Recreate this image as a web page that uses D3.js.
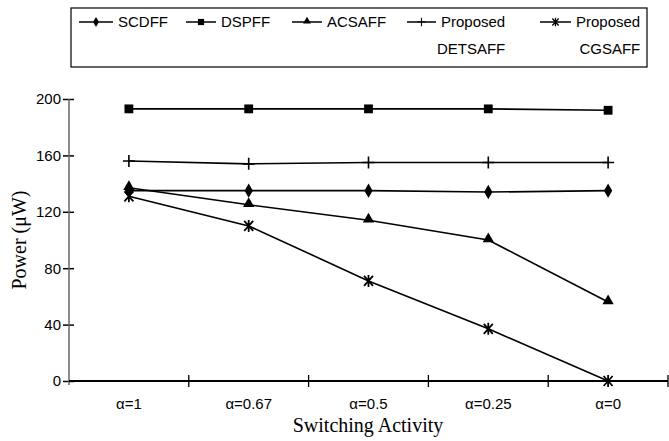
<!DOCTYPE html>
<html>
<head>
<meta charset="utf-8">
<script src="https://cdn.jsdelivr.net/npm/d3@7"></script>
<style>
  body { margin: 0; background: #fff; }
  svg { display: block; }
  .sans { font-family: "Liberation Sans", Arial, sans-serif; }
  .serif { font-family: "Liberation Serif", "Times New Roman", serif; }
</style>
</head>
<body>
<div class="chart"></div>
<script>
// Data
const categories = ["α=1", "α=0.67", "α=0.5", "α=0.25", "α=0"];
const scdff   = [135, 135, 135, 134, 135];
const dspff   = [193, 193, 193, 193, 192];
const acsaff  = [137, 125, 114, 100, 56];
const detsaff = [156, 154, 155, 155, 155];
const cgsaff  = [131, 110, 71, 37, 0];
const yTicks  = [0, 40, 80, 120, 160, 200];

const series = [
    { name: ["SCDFF"], values: scdff, marker: "diamond" },
    { name: ["DSPFF"], values: dspff, marker: "square" },
    { name: ["ACSAFF"], values: acsaff, marker: "triangle" },
    { name: ["Proposed", "DETSAFF"], values: detsaff, marker: "plus" },
    { name: ["Proposed", "CGSAFF"], values: cgsaff, marker: "star" }
];

const W = 669, H = 441;
const svg = d3.select(".chart")
    .append("svg")
    .attr("width", W)
    .attr("height", H);

// Scales
const x = d3.scaleBand()
    .domain(categories)
    .range([69, 668])
    .padding(0);

const y = d3.scaleLinear()
    .domain([0, 200])
    .range([381, 99]);

const cx = c => x(c) + x.bandwidth() / 2;

// Marker drawing
function drawMarker(g, type) {
    if (type === "diamond") {
        g.append("path").attr("d", d3.symbol(d3.symbolDiamond, 60)()).attr("fill", "#000");
    } else if (type === "square") {
        g.append("path").attr("d", d3.symbol(d3.symbolSquare, 78)()).attr("fill", "#000");
    } else if (type === "triangle") {
        g.append("path").attr("d", d3.symbol(d3.symbolTriangle, 55)()).attr("fill", "#000")
            .attr("transform", "translate(0,-1)");
    } else if (type === "plus") {
        g.append("path").attr("d", "M-6,0H6M0,-6V6")
            .attr("stroke", "#000").attr("stroke-width", 1.6).attr("fill", "none");
    } else if (type === "star") {
        g.append("path").attr("d", "M-4.5,-5L4.5,5M-4.5,5L4.5,-5M0,-6V6")
            .attr("stroke", "#000").attr("stroke-width", 1.8).attr("fill", "none");
    }
}

// Y axis
const yAxis = svg.append("g")
    .attr("transform", "translate(69,0)")
    .call(d3.axisLeft(y).tickValues(yTicks).tickSize(0).tickPadding(8));
yAxis.select(".domain").remove();
yAxis.selectAll("text")
    .attr("class", "sans")
    .attr("font-size", 15)
    .attr("fill", "#000");
yAxis.selectAll(".tick").append("line")
    .attr("x1", -6).attr("x2", 5)
    .attr("stroke", "#000").attr("stroke-width", 1.5);

svg.append("line")
    .attr("x1", 69).attr("x2", 69)
    .attr("y1", y(200)).attr("y2", y(0) + 4)
    .attr("stroke", "#666").attr("stroke-width", 1.5);

// X axis
const xAxis = svg.append("g")
    .attr("transform", `translate(0,${y(0)})`)
    .call(d3.axisBottom(x).tickSize(0).tickPadding(17));
xAxis.select(".domain").remove();
xAxis.selectAll("text")
    .attr("class", "sans")
    .attr("font-size", 15)
    .attr("fill", "#000");

svg.append("line")
    .attr("x1", 69).attr("x2", 668)
    .attr("y1", y(0)).attr("y2", y(0))
    .attr("stroke", "#000").attr("stroke-width", 2);

const bounds = categories.map(c => x(c)).concat([x.range()[1]]).slice(1);
svg.selectAll(".xtick")
    .data(bounds)
    .enter()
    .append("line")
    .attr("x1", d => d).attr("x2", d => d)
    .attr("y1", y(0) - 6).attr("y2", y(0) + 6)
    .attr("stroke", "#000").attr("stroke-width", 1.3);

// Axis titles
svg.append("text")
    .attr("class", "serif")
    .attr("x", 368).attr("y", 432)
    .attr("text-anchor", "middle")
    .attr("font-size", 20)
    .text("Switching Activity");

svg.append("text")
    .attr("class", "serif")
    .attr("transform", `translate(26,${(y(0) + y(200)) / 2}) rotate(-90)`)
    .attr("text-anchor", "middle")
    .attr("font-size", 20)
    .text("Power (μW)");

// Lines and markers
const line = d3.line()
    .x((d, i) => cx(categories[i]))
    .y(d => y(d));

series.forEach(s => {
    svg.append("path")
        .attr("d", line(s.values))
        .attr("fill", "none")
        .attr("stroke", "#000")
        .attr("stroke-width", 1.6);
    s.values.forEach((v, i) => {
        const g = svg.append("g")
            .attr("transform", `translate(${cx(categories[i])},${y(v)})`);
        drawMarker(g, s.marker);
    });
});

// Legend
const legend = svg.append("g");
legend.append("rect")
    .attr("x", 71).attr("y", 8)
    .attr("width", 576).attr("height", 59)
    .attr("fill", "none")
    .attr("stroke", "#000")
    .attr("stroke-width", 1.2);

const legendItems = [
    { lx: 79, tx: 118 },
    { lx: 186, tx: 221 },
    { lx: 292, tx: 327 },
    { lx: 407, tx: 441 },
    { lx: 540, tx: 576 }
];

series.forEach((s, i) => {
    const it = legendItems[i];
    const g = legend.append("g");
    g.append("line")
        .attr("x1", it.lx).attr("x2", it.tx - 5)
        .attr("y1", 22).attr("y2", 22)
        .attr("stroke", "#000").attr("stroke-width", 1.5);
    const m = g.append("g")
        .attr("transform", `translate(${(it.lx + it.tx - 5) / 2},22) scale(0.7)`);
    drawMarker(m, s.marker);
    if (s.name.length === 1) {
        g.append("text")
            .attr("class", "sans")
            .attr("x", it.tx).attr("y", 27)
            .attr("font-size", 15)
            .text(s.name[0]);
    } else {
        const t = g.append("text")
            .attr("class", "sans")
            .attr("font-size", 15)
            .attr("text-anchor", "end");
        const first = t.append("tspan").attr("x", 0).attr("y", 27).text(s.name[0]);
        const w = first.node().getComputedTextLength();
        first.attr("x", it.tx + w);
        t.append("tspan").attr("x", it.tx + w).attr("y", 54).text(s.name[1]);
    }
});
</script>
</body>
</html>
